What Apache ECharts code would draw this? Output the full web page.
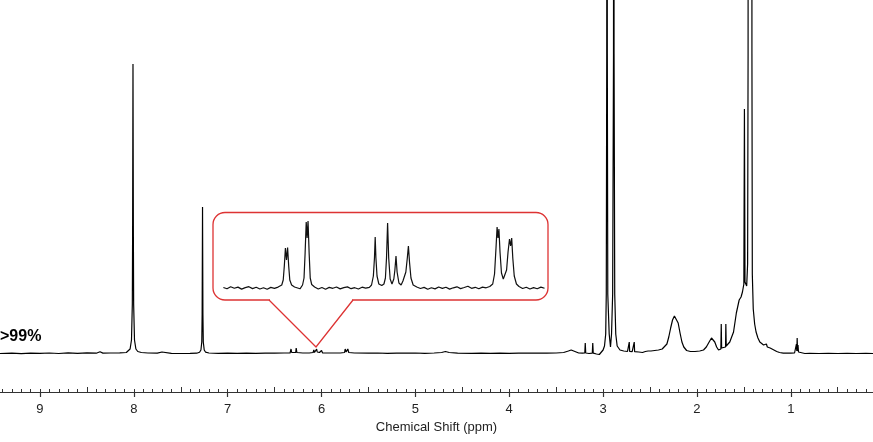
<!DOCTYPE html>
<html>
<head>
<meta charset="utf-8">
<script src="https://cdn.jsdelivr.net/npm/echarts@6.0.0/dist/echarts.min.js"></script>
<style>
html, body { margin: 0; padding: 0; background: #fff; }
#chart { width: 873px; height: 442px; }
</style>
</head>
<body>
<div id="chart"></div>
<script>
// axis range (ppm)
var ppmMin = 0.124;
var ppmMax = 9.426;
var majorTicks = [1, 2, 3, 4, 5, 6, 7, 8, 9];
var halfTicks = [0.5, 1.5, 2.5, 3.5, 4.5, 5.5, 6.5, 7.5, 8.5];

// spectrum, [ppm, intensity], split by region
var aromatic = [
    [9.43, 0.5], [9.3, 0.8], [9.2, 0.3], [9.1, 0.9], [9.0, 0.6], [8.9, 1.0], [8.8, 0.5],
    [8.7, 1.1], [8.6, 0.7], [8.5, 1.2], [8.4, 0.8], [8.36, 2.2], [8.33, 0.9], [8.25, 1.0],
    [8.15, 1.2], [8.08, 1.5],
    [8.06, 2.5], [8.04, 5], [8.025, 14], [8.016, 50], [8.013, 120], [8.009, 290],
    [8.005, 120], [8.002, 50], [7.993, 14], [7.978, 5], [7.958, 2.5], [7.92, 1.5],
    [7.85, 1.0], [7.75, 0.8], [7.70, 2.0], [7.68, 0.8], [7.6, 0.6], [7.5, 0.5], [7.4, 0.6],
    [7.33, 0.8], [7.30, 1.8], [7.285, 4], [7.276, 12], [7.272, 40], [7.268, 147],
    [7.264, 40], [7.26, 12], [7.25, 4], [7.235, 1.8], [7.2, 1.0], [7.1, 0.7], [7.0, 0.9]
];
var vinyl = [
    [6.9, 0.6], [6.8, 0.8], [6.7, 0.7], [6.6, 0.9], [6.5, 0.8], [6.4, 1.0],
    [6.335, 1], [6.325, 5], [6.318, 1.5], [6.275, 1.5], [6.27, 6], [6.263, 1.5],
    [6.2, 1.0], [6.13, 1.0], [6.09, 1.5], [6.082, 4], [6.075, 1.5], [6.052, 5],
    [6.046, 2], [6.03, 3.5], [6.022, 1.5], [6.0, 3.5], [5.99, 1.2], [5.9, 1.0],
    [5.8, 1.0], [5.755, 1.5], [5.748, 5], [5.738, 2], [5.72, 5], [5.71, 1.5],
    [5.65, 1.0], [5.5, 0.8], [5.4, 1.0], [5.3, 0.7], [5.2, 0.9], [5.1, 0.8], [5.0, 1.0],
    [4.9, 0.7], [4.8, 1.0], [4.72, 1.5], [4.68, 2.5], [4.64, 1.5], [4.55, 0.8],
    [4.4, 0.7], [4.3, 0.9], [4.2, 0.7], [4.1, 0.8], [4.0, 0.7], [3.9, 0.9], [3.8, 0.8],
    [3.7, 1.0], [3.6, 0.8], [3.5, 1.0]
];
var aliphatic = [
    [3.42, 1.5], [3.37, 3], [3.34, 4], [3.3, 2.5], [3.26, 1], [3.22, 0.8],
    [3.195, 1], [3.19, 11], [3.185, 1], [3.15, 0.5], [3.115, 0.8], [3.11, 11],
    [3.105, 0.8], [3.07, 0], [3.04, -0.5], [3.02, 1.5], [3.0, 4],
    [2.985, 8], [2.972, 20], [2.966, 60], [2.961, 300], [2.958, 900], [2.955, 300],
    [2.95, 60], [2.935, 20], [2.921, 7], [2.91, 20], [2.898, 60], [2.889, 300],
    [2.886, 900], [2.883, 300], [2.876, 60], [2.865, 20], [2.85, 8], [2.82, 4],
    [2.78, 3], [2.74, 2.5], [2.725, 2.5], [2.721, 12], [2.717, 2.5], [2.69, 2.3],
    [2.672, 2.3], [2.668, 12], [2.664, 2.3], [2.62, 2], [2.58, 1.5], [2.55, 2.5],
    [2.52, 3], [2.5, 5], [2.49, 3], [2.47, 5], [2.45, 3.5], [2.43, 5], [2.41, 4],
    [2.39, 5.5], [2.37, 5], [2.35, 6], [2.32, 10], [2.30, 17], [2.28, 26], [2.26, 34],
    [2.24, 38], [2.22, 37], [2.2, 31], [2.18, 21], [2.16, 12], [2.14, 7], [2.11, 3.5],
    [2.07, 2.5], [2.02, 2.5],
    [1.97, 3], [1.93, 4], [1.9, 7], [1.87, 12], [1.845, 16], [1.83, 16], [1.81, 12],
    [1.79, 7], [1.77, 4], [1.745, 5], [1.741, 30], [1.737, 6], [1.72, 6], [1.695, 7],
    [1.692, 30], [1.688, 8], [1.67, 9], [1.65, 12], [1.64, 14], [1.61, 22], [1.58, 41],
    [1.55, 54], [1.53, 57], [1.515, 62], [1.50, 70], [1.494, 245], [1.488, 72],
    [1.47, 68], [1.46, 90], [1.455, 300], [1.452, 1500], [1.417, 1500], [1.414, 300],
    [1.41, 80], [1.40, 45], [1.385, 30], [1.37, 22], [1.35, 16], [1.33, 12], [1.31, 10],
    [1.29, 9], [1.27, 8], [1.26, 10], [1.25, 7], [1.235, 9], [1.22, 6], [1.2, 7],
    [1.18, 4], [1.15, 2.5], [1.12, 1.5], [1.08, 0.8], [1.0, 0.8], [0.96, 1],
    [0.945, 2], [0.94, 10], [0.936, 3], [0.932, 16], [0.928, 3], [0.923, 9], [0.918, 2],
    [0.9, 1], [0.85, 0.5], [0.8, 0.7], [0.7, 0.5], [0.6, 0.7], [0.5, 0.5], [0.4, 0.6],
    [0.3, 0.5], [0.2, 0.6], [0.12, 0.5]
];

// expanded 5.6 - 6.5 ppm region shown in the inset
var insetMin = 5.616;
var insetMax = 6.501;
var insetTrace = [
    [6.50, 0.5], [6.49, -0.8], [6.48, 1.2], [6.47, -0.3], [6.46, 0.9], [6.45, -1.1],
    [6.44, 0.4], [6.43, 1.3], [6.42, -0.6], [6.41, 0.8], [6.40, -1.0], [6.39, 0.2],
    [6.38, -1.3], [6.37, 0.6], [6.36, -0.4], [6.35, 0.9], [6.345, 1.5],
    [6.34, 3], [6.336, 8], [6.333, 22], [6.330, 40], [6.327, 28], [6.324, 40.5],
    [6.321, 22], [6.318, 8], [6.313, 3], [6.305, 1], [6.30, -0.5], [6.29, -0.8], [6.285, 1],
    [6.283, 3], [6.279, 10], [6.276, 35], [6.273, 66], [6.2705, 50], [6.268, 67],
    [6.265, 35], [6.262, 10], [6.258, 3.5], [6.25, 1], [6.24, -1], [6.23, 0.5],
    [6.22, -1.2], [6.21, 0.6], [6.20, -0.3], [6.19, 1.0], [6.18, -0.9], [6.17, 0.4],
    [6.16, 1.1], [6.15, -0.7], [6.14, 0.3], [6.13, -1.0], [6.12, 0.8], [6.11, -0.2],
    [6.10, 0.6], [6.094, 3], [6.089, 12], [6.086, 30], [6.084, 51], [6.082, 30],
    [6.079, 12], [6.074, 4], [6.066, 2.5], [6.06, 4], [6.056, 10], [6.053, 30],
    [6.050, 65], [6.047, 30], [6.043, 9], [6.038, 4], [6.033, 9], [6.030, 18],
    [6.027, 32], [6.024, 16], [6.019, 5], [6.013, 3], [6.008, 7], [6.0, 16],
    [5.996, 30], [5.993, 42], [5.990, 26], [5.986, 10], [5.98, 3], [5.97, 1],
    [5.96, -0.5], [5.95, 0.6], [5.94, -1.2], [5.93, 0.3], [5.92, -0.9], [5.91, 1.0],
    [5.90, -0.4], [5.89, 0.8], [5.88, -1.1], [5.87, 0.2], [5.86, 1.2], [5.85, -0.6],
    [5.84, 0.5], [5.83, 1.8], [5.82, -0.3], [5.81, 0.7], [5.80, -0.8], [5.79, 0.9],
    [5.78, 0.2], [5.77, 1.5], [5.762, 4], [5.757, 14], [5.753, 40], [5.750, 61],
    [5.7475, 50], [5.745, 59], [5.742, 36], [5.738, 15], [5.733, 9], [5.728, 10],
    [5.724, 18], [5.72, 36], [5.716, 49], [5.713, 42], [5.710, 50], [5.707, 30],
    [5.703, 12], [5.697, 4], [5.69, 1.5], [5.68, -0.5], [5.67, 0.8], [5.66, -1.0],
    [5.65, 0.4], [5.64, -0.7], [5.63, 0.9], [5.62, -0.3]
];

// 0.1 ppm minor ticks
var tenthTicks = [];
for (var i = 2; i <= 94; i++) {
    tenthTicks.push(i / 10);
}

var spectrum = aromatic.concat(vinyl, aliphatic);

var chart = echarts.init(document.getElementById('chart'));
var axisColor = '#333';
var calloutRed = '#dd3333';

function tickAxis(gridIndex, values, len) {
    return {
        type: 'value', gridIndex: gridIndex, min: ppmMin, max: ppmMax, inverse: true,
        axisLine: { show: false, onZero: false },
        splitLine: { show: false },
        axisLabel: { show: false },
        axisTick: { show: true, inside: true, length: len, customValues: values,
            lineStyle: { color: axisColor, width: 1 } }
    };
}
function hiddenY(gridIndex, min, max) {
    return { type: 'value', gridIndex: gridIndex, min: min, max: max, show: false };
}

var option = {
    animation: false,
    grid: [
        { left: 0, right: 0, top: 0, bottom: 50 },
        { left: 0, right: 0, top: 0, bottom: 50 },
        { left: 0, right: 0, top: 0, bottom: 50 },
        { left: 223, width: 323, top: 212, height: 88 }
    ],
    xAxis: [
        {
            type: 'value', gridIndex: 0, min: ppmMin, max: ppmMax, inverse: true,
            name: 'Chemical Shift (ppm)', nameLocation: 'middle', nameGap: 28,
            nameTextStyle: { color: '#222', fontSize: 13, fontFamily: 'Liberation Sans' },
            axisLine: { onZero: false, lineStyle: { color: axisColor, width: 1.2 } },
            splitLine: { show: false },
            axisTick: { inside: false, length: 5, customValues: majorTicks,
                lineStyle: { color: axisColor, width: 1.2 } },
            axisLabel: { customValues: majorTicks, margin: 11, color: '#222',
                fontSize: 13, fontFamily: 'Liberation Sans' }
        },
        tickAxis(1, tenthTicks, 3),
        tickAxis(2, halfTicks, 5),
        { type: 'value', gridIndex: 3, min: insetMin, max: insetMax, inverse: true, show: false }
    ],
    yAxis: [
        hiddenY(0, -38, 354),
        hiddenY(1, -38, 354),
        hiddenY(2, -38, 354),
        hiddenY(3, -12, 76)
    ],
    series: [
        {
            type: 'line', xAxisIndex: 0, yAxisIndex: 0, data: spectrum,
            showSymbol: false, clip: true,
            lineStyle: { color: '#000', width: 1.2 }
        },
        {
            type: 'line', xAxisIndex: 3, yAxisIndex: 3, data: insetTrace,
            showSymbol: false, clip: false,
            lineStyle: { color: '#111', width: 1.2 }
        }
    ],
    graphic: [
        {
            type: 'rect', z: 100,
            shape: { x: 213, y: 212.5, width: 335, height: 87.5, r: 12 },
            style: { fill: 'none', stroke: calloutRed, lineWidth: 1.3 }
        },
        {
            type: 'line', z: 101,
            shape: { x1: 270, y1: 300, x2: 352, y2: 300 },
            style: { stroke: '#fff', lineWidth: 3 }
        },
        {
            type: 'polyline', z: 102,
            shape: { points: [[269, 300], [316, 347], [353, 300]] },
            style: { fill: 'none', stroke: calloutRed, lineWidth: 1.3 }
        },
        {
            type: 'text', left: 0, top: 329,
            style: { text: '>99%', fill: '#000', font: 'bold 16px "Liberation Sans"' }
        }
    ]
};

chart.setOption(option);
</script>
</body>
</html>
